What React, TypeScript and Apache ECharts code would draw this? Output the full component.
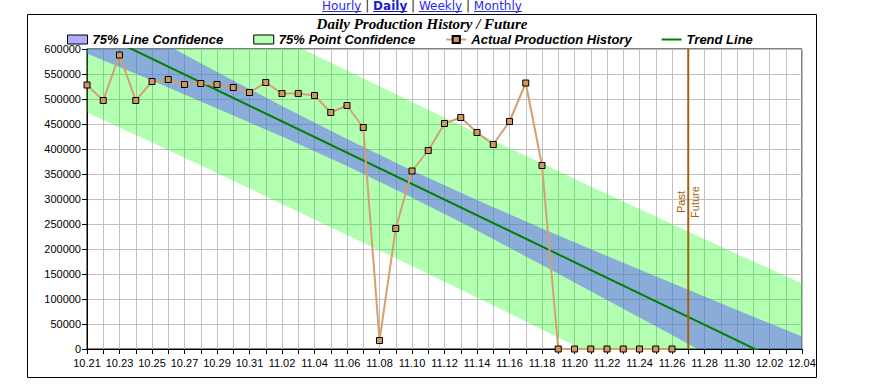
import React, { useEffect, useRef } from 'react';
import * as echarts from 'echarts';

// ---- data ----
const categories = [
  '10.21', '10.22', '10.23', '10.24', '10.25', '10.26', '10.27', '10.28', '10.29', '10.30', '10.31',
  '11.01', '11.02', '11.03', '11.04', '11.05', '11.06', '11.07', '11.08', '11.09', '11.10',
  '11.11', '11.12', '11.13', '11.14', '11.15', '11.16', '11.17', '11.18', '11.19', '11.20',
  '11.21', '11.22', '11.23', '11.24', '11.25', '11.26', '11.27', '11.28', '11.29', '11.30',
  '12.01', '12.02', '12.03', '12.04',
];

// Actual production history, 10.21 .. 11.26
const production = [
  528000, 497000, 588000, 497000, 535000, 539000, 529000, 531000, 529000, 523000, 513000,
  533000, 511000, 511000, 507000, 473000, 487000, 443000, 17000, 241000, 356000,
  397000, 451000, 463000, 433000, 409000, 455000, 532000, 367000, 0, 0,
  0, 0, 0, 0, 0, 0,
];

// Trend line end points
const trendDates = ['10.21', '12.04'];
const trendValues = [643000, -45400];

// Confidence band edges, read at every 4th day
const bandDates = ['10.21', '10.25', '10.29', '11.02', '11.06', '11.10', '11.14', '11.18', '11.22', '11.26', '11.30', '12.04'];
const lineUpper = [695000, 624000, 554000, 486000, 420000, 357000, 298000, 241000, 186000, 132000, 78000, 25000];
const lineLower = [591000, 537000, 481000, 425000, 366000, 303000, 237000, 168000, 98000, 28000, -44000, -115000];
const pointUpper = [813000, 748000, 684000, 620000, 557000, 494000, 432000, 371000, 310000, 250000, 190000, 131000];
const pointLower = [473000, 413000, 352000, 290000, 228000, 166000, 103000, 39000, -25000, -90000, -156000, -222000];

const dividerDate = '11.27';
const yMin = 0;
const yMax = 600000;
const yInterval = 50000;

const links = ['Hourly', 'Daily', 'Weekly', 'Monthly'];
const activeLink = 'Daily';

const titleText = 'Daily Production History / Future';
const legendNames = ['75% Line Confidence', '75% Point Confidence', 'Actual Production History', 'Trend Line'];

// ---- styles ----
const SANS = '"Liberation Sans", Arial, sans-serif';
const GREEN_BAND = 'rgba(0,255,0,0.30)';
const BLUE_BAND = 'rgba(97,89,253,0.50)';
const PROD_LINE = '#d4a070';
const PROD_MARK = '#d09860';
const TREND = '#008000';
const DIVIDER = '#a65f0a';

function measure(text: string, font: string): number {
  const c = document.createElement('canvas').getContext('2d');
  if (!c) return text.length * 7;
  c.font = font;
  return c.measureText(text).width;
}

function bandSeries(name: string, upper: number[], lower: number[], color: string, z: number) {
  return {
    type: 'custom',
    name,
    z,
    clip: true,
    silent: true,
    itemStyle: { color },
    data: [[0, 0]],
    renderItem: (_params: any, api: any) => {
      const pts: number[][] = [];
      for (let i = 0; i < bandDates.length; i++) {
        pts.push(api.coord([categories.indexOf(bandDates[i]), upper[i]]));
      }
      for (let i = bandDates.length - 1; i >= 0; i--) {
        pts.push(api.coord([categories.indexOf(bandDates[i]), lower[i]]));
      }
      return { type: 'polygon', shape: { points: pts }, style: { fill: color } };
    },
  };
}

function linkGraphics() {
  const normalFont = '12px "DejaVu Sans", Verdana, sans-serif';
  const boldFont = 'bold 12px "DejaVu Sans", Verdana, sans-serif';
  const sep = ' | ';
  const sepW = measure(sep, normalFont);
  const widths = links.map((l) => measure(l, l === activeLink ? boldFont : normalFont));
  const total = widths.reduce((a, b) => a + b, 0) + sepW * (links.length - 1);
  let x = 422 - total / 2;
  const els: any[] = [];
  links.forEach((l, i) => {
    const bold = l === activeLink;
    const color = bold ? '#1a1acc' : '#2a2aee';
    els.push({
      type: 'text', x, y: 6.2,
      style: { text: l, font: bold ? boldFont : normalFont, fill: color, textAlign: 'left', textVerticalAlign: 'middle' },
    });
    els.push({ type: 'rect', shape: { x, y: 11, width: widths[i], height: 1 }, style: { fill: color } });
    x += widths[i];
    if (i < links.length - 1) {
      els.push({
        type: 'text', x, y: 6.2,
        style: { text: sep, font: normalFont, fill: '#222', textAlign: 'left', textVerticalAlign: 'middle' },
      });
      x += sepW;
    }
  });
  return els;
}

export default function App() {
  const ref = useRef<HTMLDivElement>(null);

  useEffect(() => {
    if (!ref.current) return;
    const chart = echarts.init(ref.current, undefined, { renderer: 'svg' });

    const option: any = {
      animation: false,
      backgroundColor: '#fff',
      textStyle: { fontFamily: SANS },
      grid: { left: 87, top: 49, right: 90, bottom: 43, show: true, borderColor: '#000', borderWidth: 1, backgroundColor: 'transparent' },
      legend: {
        left: 67,
        top: 33,
        padding: 0,
        itemGap: 30,
        itemWidth: 20,
        itemHeight: 9,
        selectedMode: false,
        textStyle: { fontFamily: SANS, fontSize: 13, fontWeight: 'bold', fontStyle: 'italic', color: '#000' },
        data: [
          { name: legendNames[0], icon: 'rect', itemStyle: { color: '#b0acfe', borderColor: '#000', borderWidth: 1 } },
          { name: legendNames[1], icon: 'rect', itemStyle: { color: '#b3ffb3', borderColor: '#000', borderWidth: 1 } },
          { name: legendNames[2] },
          { name: legendNames[3], icon: 'path://M0,0 L20,0 L20,2 L0,2 Z', itemStyle: { color: TREND } },
        ],
      },
      xAxis: {
        type: 'category',
        data: categories,
        boundaryGap: false,
        axisLine: { show: true, lineStyle: { color: '#000', width: 1 } },
        axisTick: { show: true, interval: 0, length: 5, lineStyle: { color: '#000' } },
        axisLabel: { interval: 1, margin: 8, color: '#000', fontFamily: SANS, fontSize: 11 },
        splitLine: { show: true, interval: 0, lineStyle: { color: '#c0c0c0', width: 1 } },
      },
      yAxis: {
        type: 'value',
        min: yMin,
        max: yMax,
        interval: yInterval,
        axisLine: { show: true, lineStyle: { color: '#000', width: 1 } },
        axisTick: { show: true, length: 5, lineStyle: { color: '#000' } },
        axisLabel: { margin: 6, color: '#000', fontFamily: SANS, fontSize: 11, formatter: (v: number) => String(v) },
        splitLine: { show: true, lineStyle: { color: '#c0c0c0', width: 1 } },
      },
      series: [
        bandSeries(legendNames[1], pointUpper, pointLower, GREEN_BAND, 1),
        bandSeries(legendNames[0], lineUpper, lineLower, BLUE_BAND, 2),
        {
          type: 'line',
          name: legendNames[3],
          data: trendDates.map((d, i) => [d, trendValues[i]]),
          symbol: 'none',
          clip: true,
          lineStyle: { color: TREND, width: 2 },
          itemStyle: { color: TREND },
          z: 4,
        },
        {
          type: 'line',
          name: legendNames[2],
          data: production,
          symbol: 'rect',
          symbolSize: 6,
          showAllSymbol: true,
          lineStyle: { color: PROD_LINE, width: 2 },
          itemStyle: { color: PROD_MARK, borderColor: '#000', borderWidth: 1 },
          z: 5,
        },
        {
          type: 'custom',
          name: 'divider',
          z: 6,
          silent: true,
          data: [[categories.indexOf(dividerDate), 0]],
          renderItem: (_params: any, api: any) => {
            const xi = api.value(0);
            const b = api.coord([xi, yMin]);
            const t = api.coord([xi, yMax]);
            const ly = t[1] + (b[1] - t[1]) * 0.51;
            return {
              type: 'group',
              children: [
                { type: 'line', shape: { x1: b[0], y1: b[1], x2: t[0], y2: t[1] }, style: { stroke: DIVIDER, lineWidth: 2 } },
                {
                  type: 'text', x: b[0] - 7, y: ly, rotation: Math.PI / 2,
                  style: { text: 'Past', fill: DIVIDER, font: `11px ${SANS}`, textAlign: 'center', textVerticalAlign: 'middle' },
                },
                {
                  type: 'text', x: b[0] + 7, y: ly, rotation: Math.PI / 2,
                  style: { text: 'Future', fill: DIVIDER, font: `11px ${SANS}`, textAlign: 'center', textVerticalAlign: 'middle' },
                },
              ],
            };
          },
        },
      ],
      graphic: [
        { type: 'rect', shape: { x: 27.5, y: 14.5, width: 789, height: 363 }, style: { fill: 'none', stroke: '#000', lineWidth: 1 }, z: 10 },
        {
          type: 'text', x: 422, y: 23.6, z: 10,
          style: {
            text: titleText, fill: '#000',
            font: 'italic bold 15px "Liberation Serif", "Times New Roman", serif',
            textAlign: 'center', textVerticalAlign: 'middle',
          },
        },
        ...linkGraphics(),
      ],
    };

    chart.setOption(option);
    return () => chart.dispose();
  }, []);

  return <div ref={ref} style={{ position: 'absolute', left: 0, top: 0, width: 892, height: 392 }} />;
}
